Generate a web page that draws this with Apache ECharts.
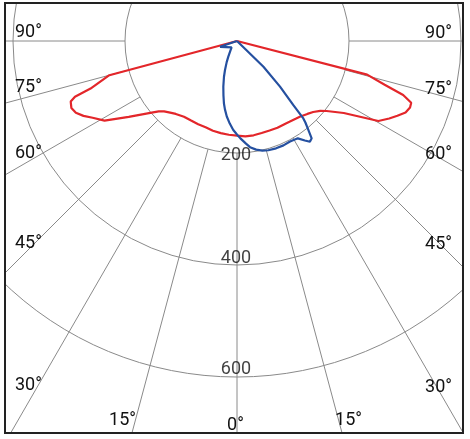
<!DOCTYPE html>
<html><head><meta charset="utf-8">
<script src="https://cdn.jsdelivr.net/npm/echarts@6/dist/echarts.min.js"></script>
<style>html,body{margin:0;padding:0;background:#fff}#c{width:470px;height:439px}</style>
</head><body><div id="c"></div>
<script>
// ---------------- data ----------------
const radiusTicks = [200, 400, 600];
const gridGammas = [0, 15, 30, 45, 60, 75, 90];
const angleLabelText = ['0°', '15°', '30°', '45°', '60°', '75°', '90°'];
// [gamma (deg), intensity (cd)]
const redLeft = [[0,169],[5,168],[10,167],[15,166],[20,164],[25,164],[30,164],[35,165],[40,170],[43,175],[46,181],[48,188],[50,199],[55,236],[59,276],[62,292],[64,305],[66,315],[68,319],[70,316],[71,306],[72,275],[75,236],[80,0]];
const redRight = [[0,170],[5,171],[10,171],[15,170],[20,170],[25,171],[30,171],[33,172],[37,174],[40,176],[44,181],[47,186],[50,194],[52,203],[56,230],[60.5,290],[63,305],[65,316],[67,327],[69,331],[70.5,330],[72,312],[73.5,275],[75.5,240],[80,0]];
const blueLeft = [[0,167],[2.4,159],[5,148],[7.7,136],[10,124],[11.8,114],[14,100],[16.7,85],[20,68],[22.5,56],[26,42],[29,32],[35,20],[40,15],[71,32],[75,0]];
const blueRight = [[0,167],[2,174],[5,184],[7,191],[10,197],[13,201],[16,203],[20,204],[24,204],[27.8,203],[32,205],[34.3,215],[35.9,222],[37.5,219],[38.7,204],[40,190],[40.6,182],[41.3,152],[43.3,112],[45.7,66],[50,0]];

// ---------------- layout / style ----------------
const CENTER = [237, 41];
const R_MAX = 600, R_PX = 336;          // 600 cd -> 336 px
const R_OUT = 1080;                      // outer extent for radial grid lines
const GRID = '#8a8a8a', RED = '#e3262a', BLUE = '#2550a0', TXT = '#111';
const FONT = '18px Roboto';
const radiusLabelDy = [2, -7, -8];
const leftLabelPos = { 90: 32, 75: 87, 60: 153, 45: 243, 30: 385 };
const rightLabelPos = { 90: 33, 75: 89, 60: 154, 45: 244, 30: 387 };
const bottomLabelPos = [[0, 235.5, 425], [15, 122.5, 420.5], [-15, 348.5, 420.5]];

// gamma on left side -> angle value g ; right side -> 360 - g
const toPath = (left, right) => left.slice().reverse().map(p => [p[1], p[0]])
  .concat(right.slice(1).map(p => [p[1], 360 - p[0]]));

const series = [];
gridGammas.forEach(g => {
  const vals = g === 0 ? [0] : [g, 360 - g];
  vals.forEach(v => series.push({
    type: 'line', coordinateSystem: 'polar', polarIndex: 1, clip: false, silent: true,
    symbol: 'none', z: 1, lineStyle: { color: GRID, width: 1 },
    data: [[radiusTicks[0], v], [R_OUT, v]]
  }));
});
series.push({
  type: 'line', coordinateSystem: 'polar', polarIndex: 0, symbol: 'none', z: 5, clip: false,
  lineStyle: { color: RED, width: 2.2 }, data: toPath(redLeft, redRight)
});
series.push({
  type: 'line', coordinateSystem: 'polar', polarIndex: 0, symbol: 'none', z: 6, clip: false,
  lineStyle: { color: BLUE, width: 2.2 }, data: toPath(blueLeft, blueRight)
});
series.push({
  type: 'scatter', coordinateSystem: 'polar', polarIndex: 0, symbolSize: 0, z: 7, silent: true,
  data: radiusTicks.map((r, i) => ({ value: [r, 0], label: { offset: [-1, radiusLabelDy[i]] } })),
  label: { show: true, position: 'inside', formatter: p => String(p.value[0]), color: TXT, fontSize: 18, fontFamily: 'Roboto' }
});

const graphics = [];
gridGammas.forEach((g, i) => {
  if (leftLabelPos[g] !== undefined) {
    graphics.push({ type: 'text', z: 50, style: { text: angleLabelText[i], x: 15, y: leftLabelPos[g], fill: TXT, font: FONT, align: 'left', verticalAlign: 'middle' } });
    graphics.push({ type: 'text', z: 50, style: { text: angleLabelText[i], x: 452, y: rightLabelPos[g], fill: TXT, font: FONT, align: 'right', verticalAlign: 'middle' } });
  }
});
bottomLabelPos.forEach(b => {
  graphics.push({ type: 'text', z: 50, style: { text: angleLabelText[gridGammas.indexOf(Math.abs(b[0]))], x: b[1], y: b[2], fill: TXT, font: FONT, align: 'center', verticalAlign: 'middle' } });
});
// white margins outside the frame, then the frame
[[0,0,470,2],[0,434,470,5],[0,0,4,439],[464,0,6,439]].forEach(r => graphics.push({
  type: 'rect', z: 90, shape: { x: r[0], y: r[1], width: r[2], height: r[3] }, style: { fill: '#fff' }, silent: true
}));
graphics.push({ type: 'rect', z: 100, shape: { x: 5, y: 3, width: 458, height: 430 }, style: { fill: 'none', stroke: '#222', lineWidth: 2 }, silent: true });

const hiddenAngle = (idx) => ({
  polarIndex: idx, type: 'value', min: 0, max: 360, startAngle: 270, clockwise: true,
  axisLine: { show: false }, axisTick: { show: false }, axisLabel: { show: false }, splitLine: { show: false }
});

const chart = echarts.init(document.getElementById('c'), null, { renderer: 'canvas' });
chart.setOption({
  animation: false,
  backgroundColor: '#fff',
  polar: [
    { center: CENTER, radius: R_PX },
    { center: CENTER, radius: R_PX * R_OUT / R_MAX }
  ],
  angleAxis: [hiddenAngle(0), hiddenAngle(1)],
  radiusAxis: [
    {
      polarIndex: 0, type: 'value', min: 0, max: R_MAX, interval: 200,
      axisLine: { show: false }, axisTick: { show: false }, axisLabel: { show: false },
      splitLine: { show: true, lineStyle: { color: GRID, width: 1 } }
    },
    {
      polarIndex: 1, type: 'value', min: 0, max: R_OUT,
      axisLine: { show: false }, axisTick: { show: false }, axisLabel: { show: false },
      splitLine: { show: false }
    }
  ],
  series: series,
  graphic: graphics
});
</script></body></html>
